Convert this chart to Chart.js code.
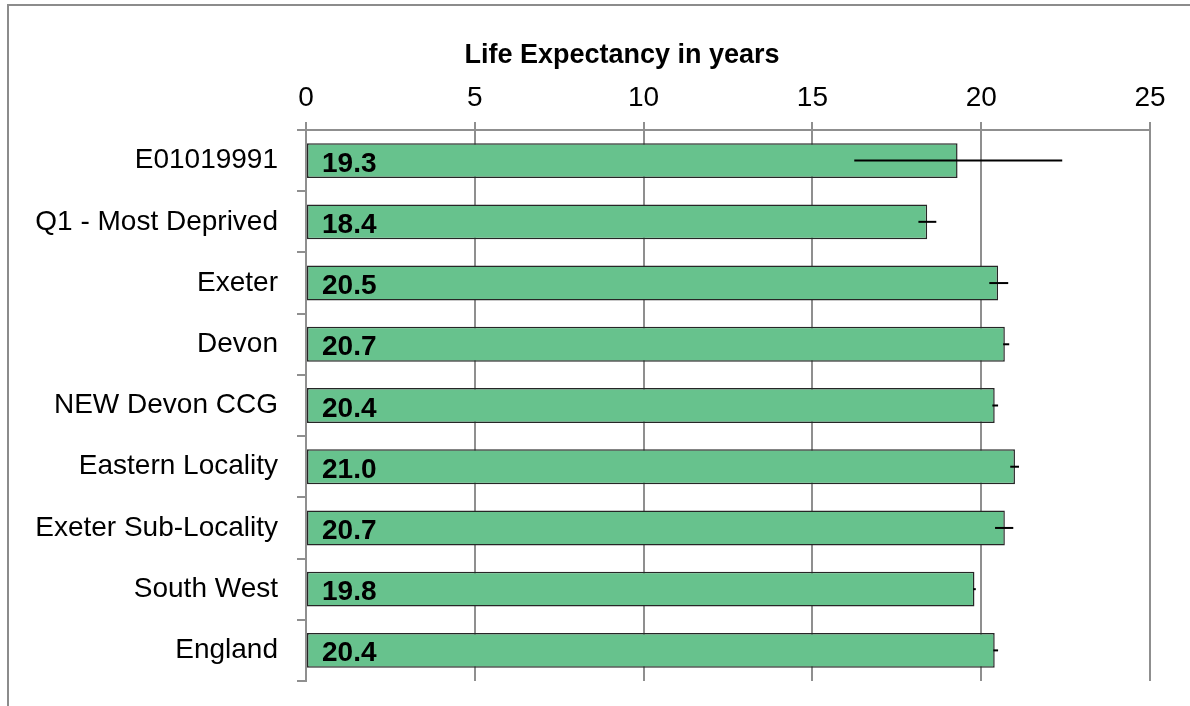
<!DOCTYPE html>
<html>
<head>
<meta charset="utf-8">
<script src="https://cdn.jsdelivr.net/npm/chart.js@4.4.1/dist/chart.umd.min.js"></script>
<style>
    html, body { margin: 0; padding: 0; background: #fff; overflow: hidden; }
    #wrap { position: relative; width: 1190px; height: 706px; }
    #frame { position: absolute; left: 7px; top: 4px; width: 1300px; height: 800px;
             border-top: 2px solid #8c8c8c; border-left: 2px solid #8c8c8c; }
    #lifeChart { position: absolute; left: 0; top: 0; }
</style>
</head>
<body>
<div id="wrap">
    <div id="frame"></div>
    <canvas id="lifeChart" width="1190" height="706"></canvas>
</div>
<script>
// --- data ---
const areas = ['E01019991', 'Q1 - Most Deprived', 'Exeter', 'Devon', 'NEW Devon CCG',
               'Eastern Locality', 'Exeter Sub-Locality', 'South West', 'England'];
const lifeExpectancy = [19.3, 18.4, 20.5, 20.7, 20.4, 21.0, 20.7, 19.8, 20.4];
const ciLower = [16.24, 18.14, 20.24, 20.65, 20.33, 20.86, 20.41, 19.76, 20.36];
const ciUpper = [22.40, 18.67, 20.80, 20.83, 20.50, 21.12, 20.95, 19.84, 20.50];
const xTicks = [0, 5, 10, 15, 20, 25];
const axisTitle = 'Life Expectancy in years';

const fontFamily = '"Liberation Sans", Arial, sans-serif';
const gridGrey = '#8f8f8f';

// garis interval kepercayaan (error bar) horizontal
const errorBarPlugin = {
    id: 'errorBars',
    afterDatasetsDraw(chart) {
        const ctx = chart.ctx;
        const xScale = chart.scales.x;
        const meta = chart.getDatasetMeta(0);
        ctx.save();
        ctx.strokeStyle = '#000';
        ctx.lineWidth = 2;
        meta.data.forEach((bar, i) => {
            const x1 = xScale.getPixelForValue(ciLower[i]);
            const x2 = xScale.getPixelForValue(ciUpper[i]);
            ctx.beginPath();
            ctx.moveTo(x1, bar.y);
            ctx.lineTo(x2, bar.y);
            ctx.stroke();
        });
        ctx.restore();
    }
};

// label nilai di dalam batang, rata kiri
const valueLabelPlugin = {
    id: 'valueLabels',
    afterDatasetsDraw(chart) {
        const ctx = chart.ctx;
        const meta = chart.getDatasetMeta(0);
        ctx.save();
        ctx.font = 'bold 28px ' + fontFamily;
        ctx.fillStyle = '#000';
        ctx.textAlign = 'left';
        ctx.textBaseline = 'alphabetic';
        meta.data.forEach((bar, i) => {
            ctx.fillText(lifeExpectancy[i].toFixed(1), bar.base + 15, bar.y + 11);
        });
        ctx.restore();
    }
};

// judul sumbu (posisinya tidak di tengah area plot)
const axisTitlePlugin = {
    id: 'axisTitle',
    afterDraw(chart) {
        const ctx = chart.ctx;
        ctx.save();
        ctx.font = 'bold 27px ' + fontFamily;
        ctx.fillStyle = '#000';
        ctx.textAlign = 'center';
        ctx.textBaseline = 'alphabetic';
        ctx.fillText(axisTitle, 622, 63);
        ctx.restore();
    }
};

const ctx = document.getElementById('lifeChart').getContext('2d');
new Chart(ctx, {
    type: 'bar',
    data: {
        labels: areas,
        datasets: [{
            data: lifeExpectancy,
            backgroundColor: '#67c28d',
            borderColor: '#262626',
            borderWidth: 1.5,
            borderSkipped: false,
            categoryPercentage: 1,
            barPercentage: 0.57
        }]
    },
    options: {
        indexAxis: 'y',
        responsive: false,
        animation: false,
        layout: { padding: { left: 0, right: 40, top: 70, bottom: 25 } },
        plugins: {
            legend: { display: false },
            tooltip: { enabled: false }
        },
        scales: {
            x: {
                position: 'top',
                min: 0,
                max: 25,
                afterFit(scale) { scale.height = 60; },
                afterBuildTicks(scale) { scale.ticks = xTicks.map(v => ({ value: v })); },
                grid: { color: gridGrey, lineWidth: 2, tickLength: 8 },
                border: { display: true, color: gridGrey, width: 2 },
                ticks: {
                    color: '#000',
                    padding: 7,
                    font: { family: fontFamily, size: 28 }
                }
            },
            y: {
                afterFit(scale) {
                    scale.width = 306;
                    scale.paddingTop = 0;
                    scale.paddingBottom = 0;
                },
                grid: { color: gridGrey, lineWidth: 2, tickLength: 9, drawOnChartArea: false, offset: true },
                border: { display: true, color: gridGrey, width: 2 },
                ticks: {
                    color: '#000',
                    padding: 19,
                    font: { family: fontFamily, size: 28 }
                }
            }
        }
    },
    plugins: [errorBarPlugin, valueLabelPlugin, axisTitlePlugin]
});
</script>
</body>
</html>
